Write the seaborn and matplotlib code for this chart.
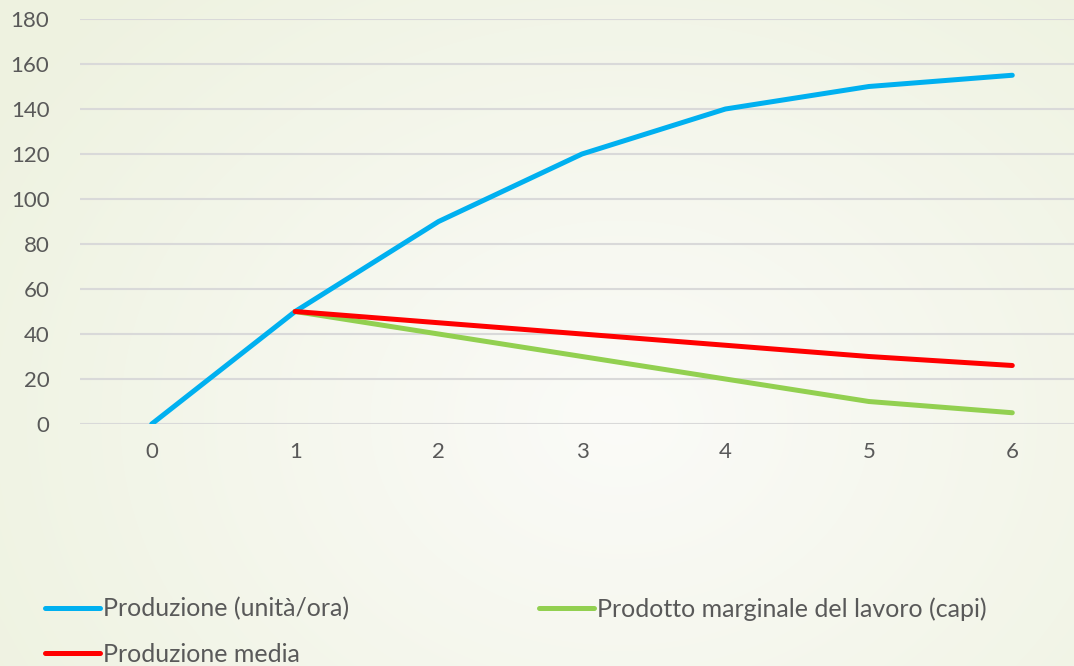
import numpy as np
import pandas as pd
import matplotlib
matplotlib.use("Agg")
import matplotlib.pyplot as plt
import seaborn as sns
from matplotlib.lines import Line2D

x_vals = [0, 1, 2, 3, 4, 5, 6]
produzione = [0, 50, 90, 120, 140, 150, 155]
marginale = [np.nan, 50, 40, 30, 20, 10, 5]
media = [np.nan, 50, 45, 40, 35, 30, 26]

labels = ["Produzione (unità/ora)", "Prodotto marginale del lavoro (capi)", "Produzione media"]
colors = ["#00B0F0", "#92D050", "#FF0000"]
y_ticks = [0, 20, 40, 60, 80, 100, 120, 140, 160, 180]

sns.set_theme(style="white")
plt.rcParams['font.family'] = ['Lato', 'DejaVu Sans']

fig = plt.figure(figsize=(10.74, 6.66), dpi=100)

# background radial gradient
bg = fig.add_axes([0, 0, 1, 1], zorder=-10)
yy, xx = np.mgrid[0:666, 0:1074]
r = np.sqrt(((xx - 620) / 750.0) ** 2 + ((yy - 420) / 600.0) ** 2)
r = np.clip(r, 0, 1)
c0 = np.array([0xFB, 0xFB, 0xF8]) / 255.0
c1 = np.array([0xEE, 0xF2, 0xE0]) / 255.0
img = c0[None, None, :] * (1 - r[..., None]) + c1[None, None, :] * r[..., None]
bg.imshow(img, aspect='auto', extent=[0, 1, 0, 1])
bg.axis('off')

ax = fig.add_axes([80 / 1074, 242 / 666, 1004 / 1074, 405 / 666])
ax.patch.set_alpha(0)

df = pd.DataFrame({"x": x_vals, labels[0]: produzione, labels[1]: marginale, labels[2]: media})
for lab, col in zip(labels, colors):
    sns.lineplot(data=df, x="x", y=lab, ax=ax, color=col, linewidth=3.6,
                 solid_capstyle='round', solid_joinstyle='round', legend=False)

ax.set_xlim(-0.5, 6.5)
ax.set_ylim(0, 180)
ax.set_yticks(y_ticks)
ax.set_xticks(x_vals)
ax.set_xlabel("")
ax.set_ylabel("")
ax.grid(axis='y', color="#D9D9D9", linewidth=1.5)
ax.set_axisbelow(True)
for s in ax.spines.values():
    s.set_visible(False)
ax.tick_params(axis='both', length=0, labelsize=16, colors="#595959")
ax.tick_params(axis='y', pad=22)
ax.tick_params(axis='x', pad=13)

handles = [Line2D([], [], color=c, linewidth=3.6, solid_capstyle='round') for c in colors]
order = [0, 2, 1]
fig.legend([handles[i] for i in order], [labels[i] for i in order],
           loc='upper left', bbox_to_anchor=(45 / 1074, 1 - 597 / 666), ncol=2,
           frameon=False, fontsize=18, handlelength=2.2, handletextpad=0.12,
           columnspacing=7.6, labelspacing=0.88, borderpad=0, borderaxespad=0,
           labelcolor="#595959")

fig.savefig("out.png", dpi=100)
